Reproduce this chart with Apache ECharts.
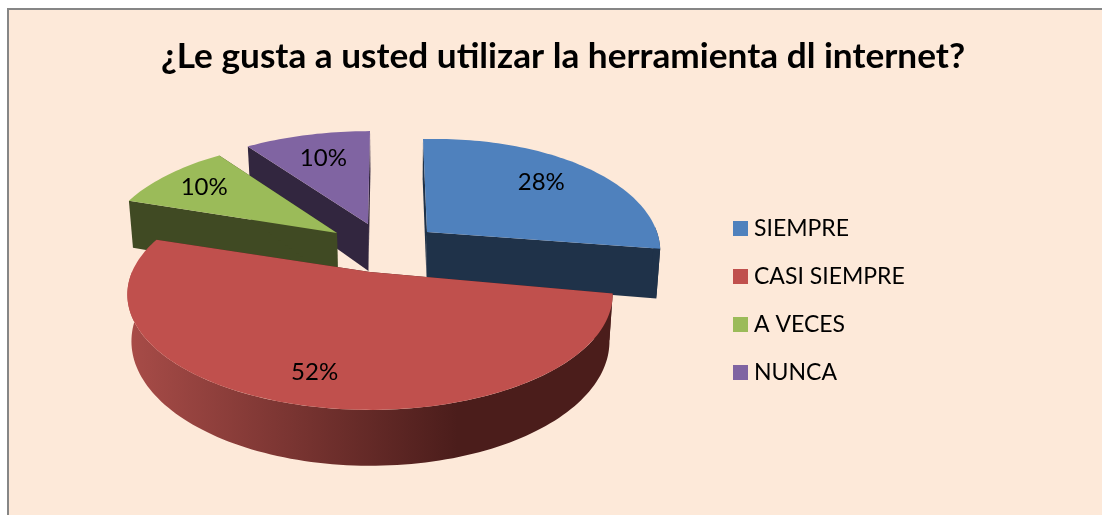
<!DOCTYPE html>
<html><head><meta charset="utf-8">
<style>html,body{margin:0;padding:0;background:#fff;overflow:hidden}
#frame{position:absolute;left:7px;top:8px;width:1095px;height:507px;box-sizing:border-box;border-left:2px solid #868686;border-top:2px solid #868686;background:#fde9d9}
#c{position:absolute;left:0;top:0;width:1102px;height:515px}</style>
<script src="https://cdn.jsdelivr.net/npm/echarts@6/dist/echarts.min.js"></script>
</head><body><div id="frame"></div><div id="c"></div>
<script>
const titleText = '¿Le gusta a usted utilizar la herramienta dl internet?';
const categories = ['SIEMPRE', 'CASI SIEMPRE', 'A VECES', 'NUNCA'];
const percents = [28, 52, 10, 10];
const colors = ['#4f81bd', '#c0504d', '#9bbb59', '#8064a2'];
const sideColors = ['#1f3249', '#4b1d1b', '#404a23', '#32263f'];
const apexes = [[427, 232], [370, 272], [337, 233], [368, 224]];
const widths = [228, 238, 232, 240];
const wallHeights = [48, 45, 50, 47];
const leans = [-4, 0, 0, 2];
const tilts = [-5, 0, 0, 0];
const labelRadii = [0.72, 0.795, 0.77, 0.70];
const drawOrder = [3, 2, 0, 1];

const T = 111, K = 0.195, VANISH_X = 400, CONVERGE = 0.015;
const total = percents.reduce((a, b) => a + b, 0);
const starts = [];
percents.reduce((a, v, i) => (starts[i] = a, a + v), 0);

function proj(i, ang, r, h) {
  const apex = apexes[i];
  const u = Math.sin(ang) * r, v = Math.cos(ang) * r;
  const w = 1 + K * v;
  let x = apex[0] + leans[i] * v + widths[i] * u / w;
  const y = apex[1] + tilts[i] * u + (-T * v + h * wallHeights[i]) / w;
  x -= (x - VANISH_X) * CONVERGE * h;
  return [x, y];
}
function arcPts(i, a0, a1, h) {
  const n = Math.max(8, Math.ceil(Math.abs(a1 - a0) * 40)), p = [];
  for (let k = 0; k <= n; k++) p.push(proj(i, a0 + (a1 - a0) * k / n, 1, h));
  return p;
}
const makeRender = (i) => (params, api) => {
  const a0 = api.value(0) / total * 2 * Math.PI;
  const a1 = (api.value(0) + api.value(1)) / total * 2 * Math.PI;
  const kids = [];
  const poly = (pts, fill) => ({ type: 'polygon', shape: { points: pts }, style: { fill: fill } });
  const wall = (a) => poly([proj(i, 0, 0, 0), proj(i, a, 1, 0), proj(i, a, 1, 1), proj(i, 0, 0, 1)], sideColors[i]);
  kids.push(wall(a0), wall(a1));
  // outer wall: the part of the rim facing the viewer
  const fa0 = Math.max(a0, Math.PI / 2), fa1 = Math.min(a1, 3 * Math.PI / 2);
  if (fa1 > fa0) {
    const up = arcPts(i, fa0, fa1, 0), down = arcPts(i, fa0, fa1, 1).reverse();
    const fill = i === 1 ? {
      type: 'linear', x: 0, y: 0, x2: 1, y2: 0,
      colorStops: [{ offset: 0, color: '#a84c48' }, { offset: 0.68, color: '#4b1d1b' }, { offset: 1, color: '#4b1d1b' }]
    } : sideColors[i];
    kids.push(poly(up.concat(down), fill));
  }
  kids.push(poly([proj(i, 0, 0, 0)].concat(arcPts(i, a0, a1, 0)), colors[i]));
  // percentage label
  const lp = proj(i, (a0 + a1) / 2, labelRadii[i], 0);
  kids.push({ type: 'text', style: {
    text: Math.round(api.value(1) / total * 100) + '%', x: lp[0], y: lp[1],
    fill: '#000', font: '24px Lato, Carlito, sans-serif', align: 'center', verticalAlign: 'middle' } });
  return { type: 'group', children: kids };
};
const chart = echarts.init(document.getElementById('c'), null, { renderer: 'canvas' });
chart.setOption({
  animation: false,
  backgroundColor: 'transparent',
  color: colors,
  title: { text: titleText, left: 558, top: 34, textAlign: 'center',
    textStyle: { fontFamily: 'Lato, Carlito, sans-serif', fontWeight: 'bold', fontSize: 35.2, color: '#000' } },
  legend: {
    data: categories, orient: 'vertical', left: 733, top: 217, itemWidth: 15, itemHeight: 15, itemGap: 25,
    icon: 'rect', textStyle: { fontFamily: 'Lato, Carlito, sans-serif', fontSize: 23, color: '#000', padding: [0, 0, 0, 1] }, padding: 0
  },
  series: drawOrder.map(i => ({
    type: 'custom', name: categories[i], coordinateSystem: 'none', silent: true,
    itemStyle: { color: colors[i] },
    renderItem: makeRender(i),
    data: [[starts[i], percents[i]]]
  }))
});
</script></body></html>
